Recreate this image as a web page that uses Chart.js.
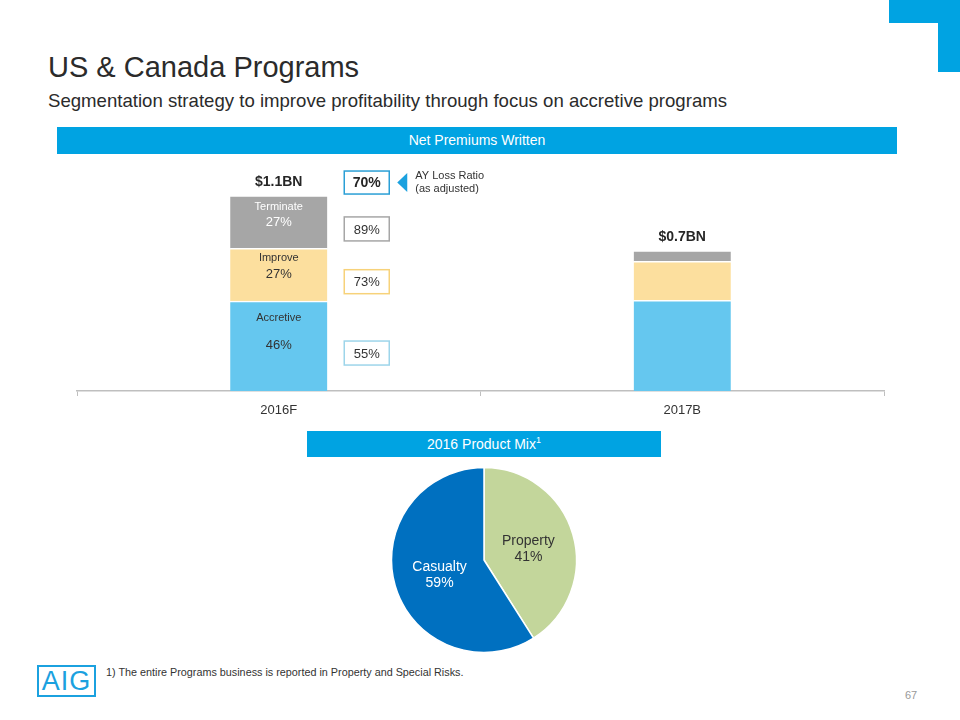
<!DOCTYPE html>
<html>
<head>
<meta charset="utf-8">
<script src="https://cdn.jsdelivr.net/npm/chart.js@4"></script>
<style>
  body { margin: 0; background: #fff; font-family: "Liberation Sans", Arial, sans-serif; color: #333; }
  #page { position: relative; width: 960px; height: 720px; overflow: hidden; }
  .abs { position: absolute; }
  .band { position: absolute; background: #00A3E2; color: #fff; font-size: 14px; text-align: center; }
  #title { left: 48px; top: 51px; font-size: 29px; color: #2b2b2b; white-space: nowrap; }
  #subtitle { left: 48px; top: 90px; font-size: 18.6px; color: #2b2b2b; white-space: nowrap; }
  #logo { left: 37px; top: 665px; width: 55px; height: 28px; border: 2.5px solid #1BA1DF; color: #1BA1DF; font-size: 27px; line-height: 29px; text-align: center; letter-spacing: 1px; }
  #footnote { left: 106px; top: 666px; font-size: 10.8px; color: #333; white-space: nowrap; }
  #pagenum { left: 905px; top: 689px; font-size: 11px; color: #999; }
</style>
</head>
<body>
<div id="page">
  <div class="abs" style="left:889px;top:0;width:71px;height:23px;background:#00A3E2"></div>
  <div class="abs" style="left:938px;top:0;width:22px;height:72px;background:#00A3E2"></div>
  <div id="title" class="abs">US &amp; Canada Programs</div>
  <div id="subtitle" class="abs">Segmentation strategy to improve profitability through focus on accretive programs</div>
  <div class="band" style="left:57px;top:127px;width:840px;height:27px;line-height:27px;">Net Premiums Written</div>
  <canvas id="barChart" class="abs" width="817" height="261" style="left:72px;top:160px;"></canvas>
  <div class="band" style="left:307px;top:431px;width:354px;height:26px;line-height:26px;">2016 Product Mix<sup style="font-size:9px;vertical-align:6px;line-height:0">1</sup></div>
  <canvas id="pieChart" class="abs" width="200" height="200" style="left:384px;top:460px;"></canvas>
  <div id="logo" class="abs">AIG</div>
  <div id="footnote" class="abs">1) The entire Programs business is reported in Property and Special Risks.</div>
  <div id="pagenum" class="abs">67</div>
</div>
<script>
// Net premiums written, $BN, split by segment
const categories = ['2016F', '2017B'];
const segmentNames = ['Accretive', 'Improve', 'Terminate'];
const accretive = [0.506, 0.51];
const improve = [0.297, 0.22];
const terminate = [0.297, 0.06];
const totals = ['$1.1BN', '$0.7BN'];
const shares2016 = ['46%', '27%', '27%'];
const lossRatios2016 = ['55%', '73%', '89%'];
const totalLossRatio = '70%';

// 2016 product mix
const mixLabels = ['Property', 'Casualty'];
const mixValues = [41, 59];

const FONT = '"Liberation Sans", Arial, sans-serif';
const segColors = ['#65C7EF', '#FCDF9E', '#A6A6A6'];
const boxBorders = ['#9DD5EA', '#F7D27A', '#A6A6A6'];

const barLabels = {
    id: 'barLabels',
    afterDatasetsDraw(chart) {
        const ctx = chart.ctx;
        ctx.save();
        ctx.textBaseline = 'middle';
        // totals above each bar
        const topMeta = chart.getDatasetMeta(2);
        topMeta.data.forEach((bar, i) => {
            ctx.font = 'bold 14px ' + FONT;
            ctx.fillStyle = '#262626';
            ctx.textAlign = 'center';
            ctx.fillText(totals[i], bar.x, bar.y - 13);
        });
        // segment names and shares inside 2016F bar
        const offs = [{ n: 17, p: 44 }, { n: 10, p: 26 }, { n: 11, p: 27 }];
        const txtCol = ['#333', '#333', '#fff'];
        for (let d = 0; d < 3; d++) {
            const bar = chart.getDatasetMeta(d).data[0];
            ctx.textAlign = 'center';
            ctx.fillStyle = txtCol[d];
            ctx.font = '11px ' + FONT;
            ctx.fillText(segmentNames[d], bar.x, bar.y + offs[d].n);
            ctx.font = '13px ' + FONT;
            ctx.fillText(shares2016[d], bar.x, bar.y + offs[d].p);

            // loss ratio boxes
            const bx = bar.x + bar.width / 2 + 17;
            const cy = (bar.y + bar.base) / 2 + 7;
            ctx.fillStyle = '#fff';
            ctx.fillRect(bx, cy - 12, 45, 24);
            ctx.strokeStyle = boxBorders[d];
            ctx.lineWidth = 1.5;
            ctx.strokeRect(bx, cy - 12, 45, 24);
            ctx.fillStyle = '#333';
            ctx.fillText(lossRatios2016[d], bx + 22.5, cy + 1);
        }
        // total loss ratio box, pointer and caption
        const tb = topMeta.data[0];
        const bx = tb.x + tb.width / 2 + 17;
        const cy = tb.y - 13;
        ctx.strokeStyle = '#2A9FD6';
        ctx.lineWidth = 1.5;
        ctx.strokeRect(bx, cy - 11.5, 45, 23);
        ctx.font = 'bold 14px ' + FONT;
        ctx.fillStyle = '#262626';
        ctx.textAlign = 'center';
        ctx.fillText(totalLossRatio, bx + 22.5, cy + 1);
        ctx.fillStyle = '#1BA1DF';
        ctx.beginPath();
        ctx.moveTo(bx + 53, cy);
        ctx.lineTo(bx + 63, cy - 9.5);
        ctx.lineTo(bx + 63, cy + 9.5);
        ctx.closePath();
        ctx.fill();
        ctx.font = '11px ' + FONT;
        ctx.fillStyle = '#333';
        ctx.textAlign = 'left';
        ctx.fillText('AY Loss Ratio', bx + 71, cy - 6.5);
        ctx.fillText('(as adjusted)', bx + 71, cy + 6.5);
        ctx.restore();
    }
};

new Chart(document.getElementById('barChart').getContext('2d'), {
    type: 'bar',
    data: {
        labels: categories,
        datasets: [
            { label: segmentNames[0], data: accretive, backgroundColor: segColors[0] },
            { label: segmentNames[1], data: improve, backgroundColor: segColors[1] },
            { label: segmentNames[2], data: terminate, backgroundColor: segColors[2] }
        ].map(ds => Object.assign(ds, { barThickness: 97, borderColor: '#fff', borderWidth: { top: 1.5, left: 0, right: 0, bottom: 0 }, borderSkipped: false }))
    },
    options: {
        responsive: false,
        animation: false,
        devicePixelRatio: 1,
        layout: { padding: { left: 5, right: 5, top: 0, bottom: 0 } },
        plugins: { legend: { display: false }, tooltip: { enabled: false } },
        scales: {
            x: {
                stacked: true,
                grid: { display: true, drawOnChartArea: false, drawTicks: true, tickLength: 5, color: '#BFBFBF', offset: true },
                border: { color: '#BFBFBF', width: 1.5 },
                ticks: { color: '#333', font: { family: FONT, size: 13 }, padding: 7 },
                afterFit: s => { s.height = 30; }
            },
            y: { stacked: true, display: false, min: 0, max: 1.3 }
        }
    },
    plugins: [barLabels]
});

const pieLabels = {
    id: 'pieLabels',
    afterDatasetsDraw(chart) {
        const ctx = chart.ctx;
        const cols = ['#333', '#fff'];
        ctx.save();
        ctx.textAlign = 'center';
        ctx.textBaseline = 'middle';
        ctx.font = '14px ' + FONT;
        chart.getDatasetMeta(0).data.forEach((arc, i) => {
            const p = arc.tooltipPosition();
            ctx.fillStyle = cols[i];
            ctx.fillText(mixLabels[i], p.x, p.y - 6);
            ctx.fillText(mixValues[i] + '%', p.x, p.y + 10);
        });
        ctx.restore();
    }
};

new Chart(document.getElementById('pieChart').getContext('2d'), {
    type: 'pie',
    data: {
        labels: mixLabels,
        datasets: [{ data: mixValues, backgroundColor: ['#C3D69B', '#0070C0'], borderColor: '#fff', borderWidth: 1.5, radius: 92.5, hoverOffset: 0 }]
    },
    options: {
        responsive: false,
        animation: false,
        devicePixelRatio: 1,
        plugins: { legend: { display: false }, tooltip: { enabled: false } }
    },
    plugins: [pieLabels]
});
</script>
</body>
</html>
